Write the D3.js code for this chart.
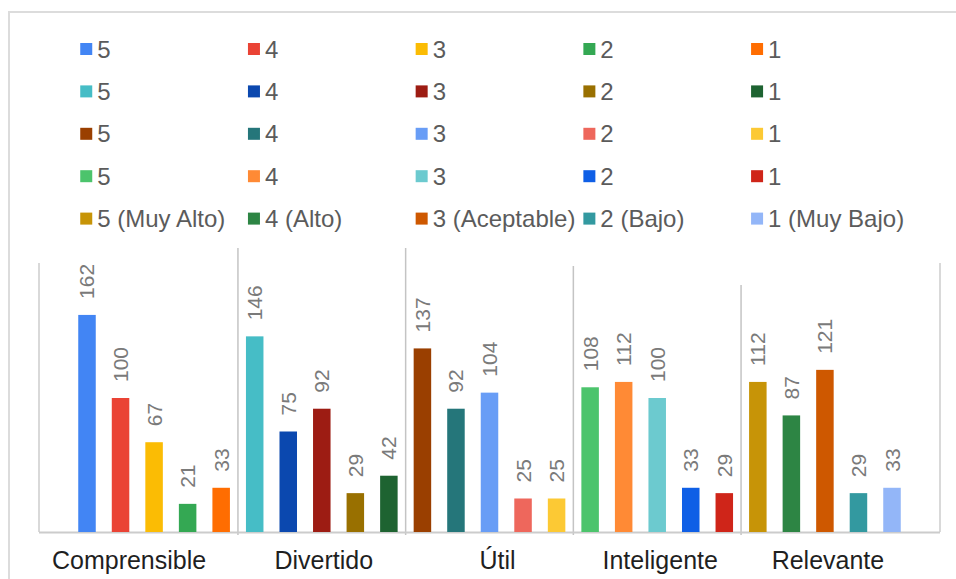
<!DOCTYPE html>
<html>
<head>
<meta charset="utf-8">
<script src="https://cdn.jsdelivr.net/npm/d3@7"></script>
<style>
  html, body { margin: 0; padding: 0; background: #fff; }
  svg { display: block; font-family: Arial, "Liberation Sans", sans-serif; }
</style>
</head>
<body>
<script>
// datos de la encuesta
const categories = ['Comprensible', 'Divertido', 'Útil', 'Inteligente', 'Relevante']
const ratings = ['5', '4', '3', '2', '1']

const comprensible = [162, 100, 67, 21, 33]
const divertido = [146, 75, 92, 29, 42]
const util = [137, 92, 104, 25, 25]
const inteligente = [108, 112, 100, 33, 29]
const relevante = [112, 87, 121, 29, 33]

const legendLabels = [
  ['5', '4', '3', '2', '1'],
  ['5', '4', '3', '2', '1'],
  ['5', '4', '3', '2', '1'],
  ['5', '4', '3', '2', '1'],
  ['5 (Muy Alto)', '4 (Alto)', '3 (Aceptable)', '2 (Bajo)', '1 (Muy Bajo)']
]

const palette = [
  ['#4285F4', '#EA4335', '#FBBC04', '#34A853', '#FF6D01'],
  ['#46BDC6', '#0B48AF', '#9D1C13', '#997000', '#1E6331'],
  ['#9A3F00', '#25767A', '#689DF6', '#EE675C', '#FCC934'],
  ['#4CC46C', '#FF8A35', '#6CCACF', '#0F5FE6', '#CF2519'],
  ['#C79407', '#2D8544', '#CE5800', '#3399A0', '#93B6F8']
]

const yMax = 200

const series = [comprensible, divertido, util, inteligente, relevante]

const width = 956, height = 579
const plot = {left: 39, right: 940, top: 264, bottom: 532}

// una barra por (categoria, nota)
const bars = []
categories.forEach((c, ci) => {
  ratings.forEach((r, ri) => {
    bars.push({key: `${ci}-${ri}`, cat: c, ci, ri, value: series[ci][ri], color: palette[ci][ri]})
  })
})

const x = d3.scaleBand()
  .domain(bars.map(d => d.key))
  .range([plot.left, plot.right])
  .paddingInner(0.478)
  .paddingOuter(1.17)

const y = d3.scaleLinear()
  .domain([0, yMax])
  .range([plot.bottom, plot.top])

const svg = d3.select('body').append('svg')
  .attr('width', width)
  .attr('height', height)

// marco exterior
svg.append('rect')
  .attr('x', 9).attr('y', 12)
  .attr('width', width + 20).attr('height', height)
  .attr('fill', 'none')
  .attr('stroke', '#dcdcdc')
  .attr('stroke-width', 2)

// leyenda: una fila por categoria
const legend = svg.append('g')
const rowY = i => 49 + i * 42.4
categories.forEach((c, ci) => {
  ratings.forEach((r, ri) => {
    const lx = x(`${ri}-0`) + 2
    const g = legend.append('g').attr('transform', `translate(${lx}, ${rowY(ci)})`)
    g.append('rect')
      .attr('x', 0).attr('y', -6)
      .attr('width', 12).attr('height', 12)
      .attr('fill', palette[ci][ri])
    g.append('text')
      .attr('x', 17).attr('y', 8.6)
      .attr('fill', '#5b5b5b')
      .style('font-size', '24px')
      .text(legendLabels[ci][ri])
  })
})

// ejes y separadores
const lineColor = '#cccccc'
svg.append('line')
  .attr('x1', plot.left).attr('x2', plot.left)
  .attr('y1', plot.top - 1).attr('y2', plot.bottom)
  .attr('stroke', lineColor).attr('stroke-width', 1.5)
svg.append('line')
  .attr('x1', plot.right).attr('x2', plot.right)
  .attr('y1', plot.top - 1).attr('y2', plot.bottom)
  .attr('stroke', lineColor).attr('stroke-width', 1.5)

const sepTops = [248, 248, 266, 285]
d3.range(1, categories.length).forEach(ci => {
  const prev = x(`${ci - 1}-4`) + x.bandwidth()
  const next = x(`${ci}-0`)
  const sx = (prev + next) / 2
  svg.append('line')
    .attr('x1', sx).attr('x2', sx)
    .attr('y1', sepTops[ci - 1]).attr('y2', plot.bottom + 3)
    .attr('stroke', '#c4c4c4').attr('stroke-width', 1.5)
})

svg.append('line')
  .attr('x1', plot.left).attr('x2', plot.right)
  .attr('y1', plot.bottom + 0.5).attr('y2', plot.bottom + 0.5)
  .attr('stroke', lineColor).attr('stroke-width', 2)

// barras
svg.append('g')
  .selectAll('rect')
  .data(bars)
  .join('rect')
  .attr('x', d => x(d.key))
  .attr('y', d => y(d.value))
  .attr('width', x.bandwidth())
  .attr('height', d => y(0) - y(d.value))
  .attr('fill', d => d.color)

// etiquetas de valor (verticales)
svg.append('g')
  .selectAll('text')
  .data(bars)
  .join('text')
  .attr('transform', d => `translate(${x(d.key) + x.bandwidth() / 2 + 7.5}, ${y(d.value) - 16}) rotate(-90)`)
  .attr('fill', '#7a7a7a')
  .style('font-size', '21px')
  .text(d => d.value)

// nombres de categoria
const labelShift = [-25, 2, 8, 3, 3]
svg.append('g')
  .selectAll('text')
  .data(categories)
  .join('text')
  .attr('x', (c, ci) => (x(`${ci}-0`) + x(`${ci}-4`) + x.bandwidth()) / 2 + labelShift[ci])
  .attr('y', 569)
  .attr('text-anchor', 'middle')
  .attr('fill', '#1f1f1f')
  .style('font-size', '25px')
  .text(c => c)
</script>
</body>
</html>
